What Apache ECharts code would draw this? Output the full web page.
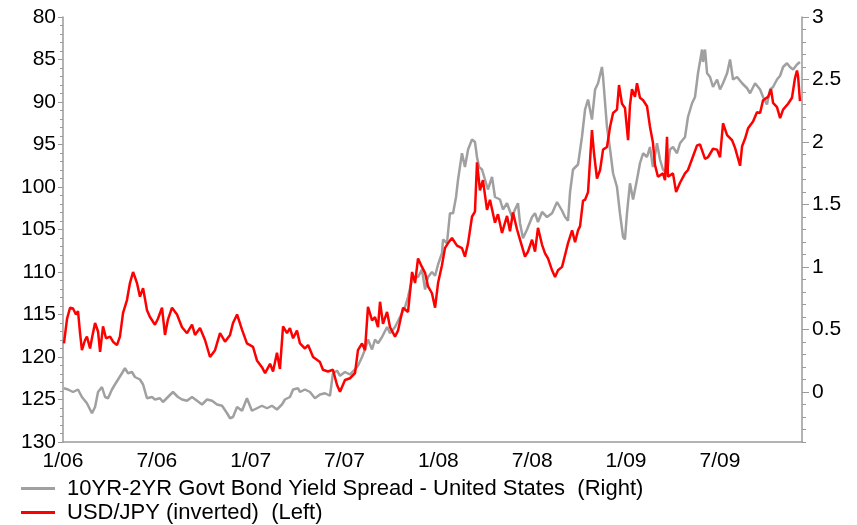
<!DOCTYPE html>
<html>
<head>
<meta charset="utf-8">
<script src="https://cdn.jsdelivr.net/npm/echarts@6/dist/echarts.min.js"></script>
<style>
  html, body { margin: 0; padding: 0; background: #ffffff; }
  #chart { width: 857px; height: 525px; }
</style>
</head>
<body>
<div id="chart"></div>
<script>
// x positions are months elapsed since the start of January 2006
const xTickLabels = ['1/06', '7/06', '1/07', '7/07', '1/08', '7/08', '1/09', '7/09'];
const rightTickValues = [0, 0.5, 1, 1.5, 2, 2.5, 3];

// 10YR-2YR US Treasury spread (percentage points, right axis)
const spreadMonths = [0.06,0.32,0.64,0.96,1.21,1.53,1.85,2.05,2.24,2.49,2.69,2.88,3.13,3.32,3.52,3.77,3.96,4.16,4.41,4.60,4.92,5.12,5.37,5.69,5.88,6.20,6.39,6.71,7.03,7.35,7.61,7.93,8.25,8.57,8.89,9.21,9.53,9.85,10.17,10.49,10.68,10.87,11.13,11.45,11.76,12.08,12.40,12.72,13.04,13.36,13.68,14.00,14.19,14.51,14.71,15.03,15.15,15.47,15.79,16.11,16.43,16.75,17.07,17.26,17.52,17.71,18.03,18.35,18.67,18.86,19.12,19.31,19.50,19.76,19.95,20.14,20.40,20.72,20.91,21.23,21.55,21.87,22.06,22.32,22.51,22.70,22.95,23.15,23.34,23.59,23.79,23.98,24.23,24.30,24.55,24.74,24.94,25.13,25.26,25.51,25.70,25.90,26.15,26.34,26.47,26.60,26.79,26.98,27.17,27.43,27.62,27.94,28.13,28.39,28.71,28.90,29.09,29.22,29.41,29.67,29.99,30.18,30.37,30.63,30.95,31.27,31.59,31.91,32.10,32.29,32.42,32.61,32.93,33.18,33.38,33.57,33.82,34.02,34.21,34.46,34.53,34.78,34.98,35.17,35.42,35.61,35.81,35.93,36.06,36.25,36.45,36.70,36.89,37.09,37.34,37.53,37.72,37.98,38.17,38.36,38.62,38.81,39.00,39.26,39.45,39.77,39.96,40.22,40.41,40.60,40.86,40.92,41.05,41.18,41.37,41.56,41.82,42.01,42.20,42.46,42.65,42.84,43.10,43.42,43.74,43.93,44.25,44.57,44.76,45.01,45.21,45.40,45.65,45.85,46.04,46.29,46.48,46.68,46.93,47.12];
const spreadValues = [0.03,0.02,0.00,0.02,-0.04,-0.09,-0.17,-0.12,0.00,0.04,-0.04,-0.05,0.02,0.06,0.10,0.15,0.19,0.15,0.16,0.12,0.10,0.06,-0.05,-0.04,-0.06,-0.05,-0.08,-0.04,0.00,-0.04,-0.06,-0.07,-0.04,-0.07,-0.10,-0.06,-0.07,-0.10,-0.11,-0.17,-0.21,-0.20,-0.12,-0.15,-0.05,-0.15,-0.13,-0.11,-0.13,-0.11,-0.14,-0.10,-0.06,-0.04,0.02,0.03,0.00,0.02,0.00,-0.05,-0.02,-0.01,-0.03,0.15,0.17,0.13,0.16,0.14,0.18,0.21,0.28,0.34,0.42,0.34,0.42,0.39,0.44,0.52,0.47,0.52,0.60,0.68,0.76,0.90,0.92,0.92,0.98,0.82,0.92,0.96,0.93,1.02,1.11,1.22,1.19,1.43,1.43,1.56,1.70,1.91,1.80,1.94,2.02,2.00,1.88,1.80,1.78,1.70,1.62,1.72,1.56,1.54,1.46,1.51,1.40,1.46,1.51,1.35,1.23,1.30,1.40,1.43,1.36,1.44,1.40,1.43,1.52,1.45,1.40,1.37,1.60,1.78,1.82,2.04,2.26,2.34,2.18,2.42,2.47,2.60,2.52,2.12,1.94,1.75,1.64,1.43,1.24,1.22,1.43,1.67,1.54,1.70,1.83,1.91,1.88,1.96,1.80,1.99,1.86,1.78,1.75,1.94,1.96,1.91,1.99,2.04,2.20,2.31,2.36,2.55,2.74,2.64,2.74,2.55,2.52,2.44,2.50,2.42,2.47,2.55,2.66,2.50,2.52,2.47,2.43,2.39,2.47,2.42,2.36,2.30,2.42,2.44,2.50,2.53,2.60,2.63,2.60,2.58,2.62,2.64];

// USD/JPY spot (yen per dollar, left axis, drawn inverted)
const jpyMonths = [0.06,0.26,0.45,0.64,0.83,0.96,1.09,1.21,1.41,1.53,1.73,1.85,2.05,2.24,2.37,2.56,2.75,3.01,3.20,3.45,3.64,3.84,4.09,4.28,4.48,4.60,4.73,4.92,5.12,5.37,5.56,5.88,6.07,6.33,6.52,6.71,6.97,7.29,7.61,7.93,8.25,8.44,8.76,9.08,9.40,9.72,10.04,10.36,10.68,10.87,11.13,11.45,11.76,12.15,12.40,12.72,12.92,13.24,13.43,13.68,13.87,14.07,14.32,14.51,14.71,14.96,15.15,15.47,15.67,15.99,16.43,16.62,16.94,17.26,17.52,17.71,18.03,18.35,18.67,18.86,19.12,19.31,19.50,19.76,19.95,20.14,20.27,20.46,20.72,20.91,21.23,21.42,21.74,22.06,22.32,22.51,22.70,22.95,23.15,23.34,23.59,23.79,23.98,24.23,24.42,24.62,24.87,25.19,25.51,25.70,25.90,26.15,26.34,26.47,26.66,26.85,27.11,27.30,27.62,27.81,28.07,28.39,28.58,28.77,29.03,29.22,29.54,29.73,29.99,30.18,30.37,30.63,30.82,31.01,31.27,31.46,31.65,31.91,32.10,32.29,32.55,32.74,32.93,33.06,33.25,33.38,33.57,33.82,33.95,34.14,34.34,34.53,34.78,34.98,35.17,35.42,35.55,35.74,35.93,36.13,36.25,36.38,36.57,36.70,36.89,37.09,37.34,37.53,37.72,37.85,38.04,38.36,38.49,38.62,38.68,39.00,39.20,39.45,39.77,39.96,40.22,40.54,40.73,41.05,41.24,41.56,41.82,42.01,42.20,42.46,42.78,42.97,43.29,43.42,43.61,43.80,44.12,44.37,44.57,44.76,45.08,45.27,45.40,45.65,45.85,46.04,46.36,46.61,46.80,46.93,47.00,47.12];
const jpyValues = [118.4,115.5,114.2,114.3,115.0,114.6,117.2,119.2,118.0,117.6,119.0,117.8,116.0,117.0,119.4,116.4,117.8,117.6,118.2,118.6,117.6,114.8,113.3,111.3,110.0,110.6,111.3,112.9,111.9,114.5,115.3,116.2,115.5,114.2,117.4,115.6,114.2,115.0,116.5,117.2,116.2,117.4,116.6,118.0,120.0,119.2,117.2,118.2,117.4,116.0,115.0,116.8,118.4,118.8,120.4,121.2,121.9,120.8,121.7,119.5,121.4,116.4,117.2,116.6,117.8,116.9,118.4,119.0,118.6,120.0,120.6,121.5,121.7,121.5,123.3,124.1,122.7,122.5,121.9,119.2,118.4,119.2,114.1,115.7,115.3,116.5,113.5,116.1,114.7,116.5,117.6,116.9,114.2,114.7,110.0,111.3,108.4,109.4,110.1,111.7,112.5,114.2,111.3,109.2,107.2,106.6,106.0,106.9,107.2,108.2,106.6,103.5,102.9,97.1,100.4,99.2,102.7,101.5,104.2,103.2,105.4,103.4,105.2,103.0,105.0,106.2,108.2,107.6,106.2,107.6,104.8,106.8,107.8,108.4,109.8,110.6,109.8,109.4,108.0,106.6,105.1,106.5,105.1,104.6,101.6,101.5,100.6,93.3,96.0,99.0,98.0,95.6,95.3,92.9,91.3,90.9,88.0,90.2,90.7,94.5,90.4,88.5,89.4,87.8,89.5,89.8,90.5,92.9,94.8,97.4,98.8,98.4,99.2,94.1,98.8,98.4,100.6,99.5,98.4,98.0,96.7,95.1,95.0,96.7,96.5,95.5,95.6,96.5,92.5,93.9,94.5,95.4,97.5,95.2,94.3,93.1,92.3,91.2,91.3,89.8,89.4,88.5,90.1,90.6,91.9,90.9,90.2,89.5,87.2,86.3,87.0,89.9];

const pairs = (xs, ys) => xs.map((x, i) => [x, ys[i]]);

const FONT = 'Liberation Sans, Arial, sans-serif';
const AXIS_GREY = '#9a9a9a';
const AXIS_FONT_SIZE = 21;
const LEGEND_FONT_SIZE = 22;

const chart = echarts.init(document.getElementById('chart'), null, { renderer: 'canvas' });

chart.setOption({
  animation: false,
  backgroundColor: '#ffffff',
  textStyle: { fontFamily: FONT, color: '#000000' },
  grid: { left: 63, right: 55, top: 17, bottom: 83, containLabel: false },
  legend: {
    orient: 'vertical',
    left: 21,
    top: 477,
    padding: 0,
    itemWidth: 34,
    itemHeight: 3,
    itemGap: 1,
    icon: 'rect',
    selectedMode: false,
    textStyle: { fontFamily: FONT, fontSize: LEGEND_FONT_SIZE, color: '#000000', lineHeight: 23, padding: [0, 0, 0, 7] },
    data: [
      { name: '10YR-2YR Govt Bond Yield Spread - United States  (Right)', itemStyle: { color: '#a0a0a0' } },
      { name: 'USD/JPY (inverted)  (Left)', itemStyle: { color: '#ff0000' } }
    ]
  },
  xAxis: {
    type: 'value',
    min: 0,
    max: 47.25,
    interval: 6,
    axisLine: { show: true, onZero: false, lineStyle: { color: AXIS_GREY, width: 1.5 } },
    axisTick: { show: false },
    splitLine: { show: false },
    axisLabel: {
      fontFamily: FONT, fontSize: AXIS_FONT_SIZE, color: '#000000', margin: 9,
      showMaxLabel: false,
      formatter: v => xTickLabels[Math.round(v / 6)] || ''
    }
  },
  yAxis: [
    {
      type: 'value',
      position: 'left',
      inverse: true,
      min: 80,
      max: 130,
      interval: 5,
      axisLine: { show: true, lineStyle: { color: AXIS_GREY, width: 1.5 } },
      axisTick: { show: true, inside: false, length: 5, lineStyle: { color: AXIS_GREY } },
      minorTick: { show: true, splitNumber: 5, length: 3, lineStyle: { color: AXIS_GREY } },
      splitLine: { show: false },
      axisLabel: { fontFamily: FONT, fontSize: AXIS_FONT_SIZE, color: '#000000', margin: 7 }
    },
    {
      // fine 0.1 tick scale along the right edge
      type: 'value',
      position: 'right',
      min: -0.4,
      max: 3,
      interval: 0.1,
      axisLine: { show: true, lineStyle: { color: AXIS_GREY, width: 1.5 } },
      axisTick: { show: true, inside: false, length: 4, lineStyle: { color: AXIS_GREY } },
      splitLine: { show: false },
      axisLabel: { show: false }
    },
    {
      // labelled right axis for the yield spread
      type: 'value',
      position: 'right',
      min: -0.4,
      max: 3,
      axisLine: { show: false },
      axisTick: { show: true, inside: false, length: 7, customValues: rightTickValues, lineStyle: { color: AXIS_GREY } },
      splitLine: { show: false },
      axisLabel: { fontFamily: FONT, fontSize: AXIS_FONT_SIZE, color: '#000000', margin: 10, customValues: rightTickValues }
    }
  ],
  series: [
    {
      name: '10YR-2YR Govt Bond Yield Spread - United States  (Right)',
      type: 'line',
      yAxisIndex: 2,
      data: pairs(spreadMonths, spreadValues),
      showSymbol: false,
      symbol: 'none',
      lineStyle: { color: '#a0a0a0', width: 2.5 },
      itemStyle: { color: '#a0a0a0' }
    },
    {
      name: 'USD/JPY (inverted)  (Left)',
      type: 'line',
      yAxisIndex: 0,
      data: pairs(jpyMonths, jpyValues),
      showSymbol: false,
      symbol: 'none',
      lineStyle: { color: '#ff0000', width: 2.5 },
      itemStyle: { color: '#ff0000' }
    }
  ]
});
</script>
</body>
</html>
